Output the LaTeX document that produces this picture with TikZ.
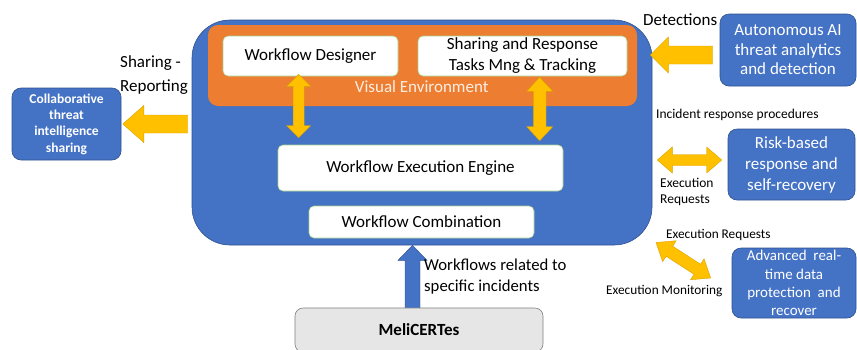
\documentclass[tikz,border=0pt]{standalone}
\usepackage{fontspec}
\setmainfont{Carlito}
\usetikzlibrary{calc}

\definecolor{cblue}{HTML}{4472C4}
\definecolor{cblueedge}{HTML}{2F528F}
\definecolor{corange}{HTML}{ED7D31}
\definecolor{cyellow}{HTML}{FFC000}
\definecolor{cyellowedge}{HTML}{D9A300}
\definecolor{cgreen}{HTML}{A9D18E}
\definecolor{cgrey}{HTML}{E7E6E6}
\definecolor{cgreyedge}{HTML}{7F7F7F}
\definecolor{cpeach}{HTML}{FDEEE4}

\newcommand\fs[2]{\fontsize{#1}{#2}\selectfont}

% single block arrow: style, tail, tip, half shaft, half head, head length
\newcommand\blockarrow[6]{%
  \coordinate (ah) at ($(#3)!#6!(#2)$);
  \path[#1] ($(#2)!#4!90:(#3)$) -- ($(ah)!#4!90:(#3)$) -- ($(ah)!#5!90:(#3)$)
    -- (#3) -- ($(ah)!#5!-90:(#3)$) -- ($(ah)!#4!-90:(#3)$)
    -- ($(#2)!#4!-90:(#3)$) -- cycle;}

% double block arrow: style, end A, end B, half shaft, half head, head length
\newcommand\dblarrow[6]{%
  \coordinate (ha) at ($(#2)!#6!(#3)$);
  \coordinate (hb) at ($(#3)!#6!(#2)$);
  \path[#1] (#2) -- ($(ha)!#5!90:(#3)$) -- ($(ha)!#4!90:(#3)$)
    -- ($(hb)!#4!90:(#3)$) -- ($(hb)!#5!90:(#3)$) -- (#3)
    -- ($(hb)!#5!-90:(#3)$) -- ($(hb)!#4!-90:(#3)$)
    -- ($(ha)!#4!-90:(#3)$) -- ($(ha)!#5!-90:(#3)$) -- cycle;}

\begin{document}
\begin{tikzpicture}[x=1pt,y=-1pt,
  bluebox/.style={draw=cblueedge, line width=0.6pt, fill=cblue, text=white,
    rounded corners=9pt, inner sep=0pt, align=center},
  whitebox/.style={draw=cgreen, line width=0.6pt, fill=white, rounded corners=5pt,
    inner sep=0pt, align=center, font=\fs{17}{21}},
  lbl/.style={inner sep=0pt, anchor=west, align=left},
  yarrow/.style={fill=cyellow, draw=cyellowedge, line width=0.4pt, line join=miter},
  barrow/.style={fill=cblue, draw=cblueedge, line width=0.4pt}]
\useasboundingbox (0,0) rectangle (857,349);
\clip (0,0) rectangle (857,349);

% platform container
\node[bluebox, rounded corners=38pt, minimum width=460pt, minimum height=225pt] (big) at (422,132.5) {};
\node[fill=corange, rounded corners=10pt, minimum width=429pt, minimum height=81pt, inner sep=0pt] (visual) at (422.5,65.5) {};
\node[text=cpeach, inner sep=0pt, font=\fs{17}{20}] (vislbl) at (421.7,87) {Visual Environment};
\node[whitebox, minimum width=175pt, minimum height=40pt] (designer) at (310.5,56) {Workflow Designer};
\node[whitebox, minimum width=209pt, minimum height=40pt] (tasks) at (522.5,56) {Sharing and Response\\Tasks Mng \& Tracking};
\node[whitebox, minimum width=285pt, minimum height=46pt] (engine) at (420.5,168) {Workflow Execution Engine};
\node[whitebox, minimum width=225pt, minimum height=32pt] (combo) at (421.5,222) {Workflow Combination};

% external services
\node[bluebox, minimum width=109pt, minimum height=72pt, font=\bfseries\fs{13.5}{16.3}] (collab) at (66.5,124) {Collaborative\\threat\\intelligence\\sharing};
\node[bluebox, minimum width=136pt, minimum height=72pt, font=\fs{17}{19.5}] (auto) at (788,50) {Autonomous AI\\threat analytics\\and detection};
\node[bluebox, minimum width=127pt, minimum height=71pt, font=\fs{17}{21}] (risk) at (791.5,164.5) {Risk-based\\response and\\self-recovery};
\node[bluebox, minimum width=124pt, minimum height=70pt, font=\fs{15}{18.3}] (adv) at (794,283) {Advanced\ \ real-\\time data\\protection\ \ and\\recover};
\node[draw=cgreyedge, line width=0.6pt, fill=cgrey, rounded corners=8pt, minimum width=248pt, minimum height=44pt,
  inner sep=0pt, font=\bfseries\fs{17}{20}] (meli) at (419,330) {MeliCERTes};

% block arrows
\path (designer.south) ++(-11.8,-2) coordinate (dA);
\path (engine.north) ++(-121.8,-7) coordinate (dB);
\dblarrow{yarrow}{dA}{dB}{5.5pt}{12pt}{12pt}
\path (tasks.south) ++(17.2,1) coordinate (tA);
\path (engine.north) ++(119.2,-4) coordinate (tB);
\dblarrow{yarrow}{tA}{tB}{6.3pt}{13pt}{14pt}
\path (collab.east) ++(1.5,0) coordinate (cTip);
\path (big.west) ++(-4,-8.5) coordinate (cTail);
\blockarrow{yarrow}{cTail}{cTip}{9pt}{18.5pt}{21pt}
\path (auto.west) ++(-7,5) coordinate (aTail);
\path (big.east) ++(-2,-77.5) coordinate (aTip);
\blockarrow{yarrow}{aTail}{aTip}{9pt}{18pt}{18pt}
\path (risk.west) ++(-6,-4.5) coordinate (rA);
\path (big.east) ++(5,27.5) coordinate (rB);
\dblarrow{yarrow}{rA}{rB}{5.5pt}{13pt}{15pt}
\coordinate (mA) at (656,242.5);
\path (adv.west) ++(-21,-5) coordinate (mB);
\dblarrow{yarrow}{mA}{mB}{6pt}{12.5pt}{16pt}
\path (meli.north) ++(-6.5,0) coordinate (uTail);
\path (big.south) ++(-9.5,0) coordinate (uTip);
\blockarrow{barrow}{uTail}{uTip}{7.5pt}{14.5pt}{15pt}

% annotations
\node[lbl, font=\fs{17}{24}] (share) at (120,75) {Sharing -\\Reporting};
\node[lbl, font=\fs{17}{20}] (detect) at (643,20) {Detections};
\node[lbl, font=\fs{13.5}{16}] (incid) at (656,115) {Incident response procedures};
\node[lbl, font=\fs{13.5}{16}] (exreq) at (660,192) {Execution\\Requests};
\node[lbl, font=\fs{13.3}{16}] (exreq2) at (666,235) {Execution Requests};
\node[lbl, font=\fs{13.3}{16}] (exmon) at (606,291) {Execution Monitoring};
\node[lbl, font=\fs{16.7}{21}] (wfrel) at (424,276.5) {Workflows related to\\specific incidents};
\end{tikzpicture}
\end{document}
